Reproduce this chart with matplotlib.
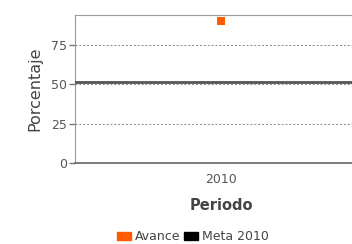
import matplotlib
matplotlib.use("Agg")
import matplotlib.pyplot as plt
from matplotlib.patches import Patch

periodos = ["2010"]
avance = [90]
meta_2010 = 51.5
yticks = [0, 25, 50, 75]

fig = plt.figure(figsize=(3.52, 2.44), dpi=100)
ax = fig.add_axes([75 / 352, 1 - 163 / 244, 292 / 352, 148 / 244])

x = list(range(len(periodos)))
ax.set_xlim(-0.5, len(periodos) - 0.5)
ax.set_ylim(0, 94)

ax.axhline(meta_2010, color="#555555", lw=2, zorder=3)
ax.scatter(x, avance, marker="s", s=40, color="#FF5A00", zorder=4, linewidths=0)

ax.set_yticks(yticks)
ax.yaxis.grid(True, color="#888888", ls=(0, (2, 2)), lw=0.7)
ax.set_xticks(x)
ax.set_xticklabels(periodos)
ax.tick_params(axis="x", length=0, pad=7, labelsize=9, labelcolor="#555555")
ax.tick_params(axis="y", length=4, width=1, color="#777777", labelsize=9, labelcolor="#555555", pad=2)

for s in ["left", "top", "right"]:
    ax.spines[s].set_color("#999999")
ax.spines["bottom"].set_color("#666666")
ax.spines["bottom"].set_linewidth(1.2)

ax.set_ylabel("Porcentaje", fontsize=11.5, color="#444444", labelpad=6)
ax.set_xlabel("Periodo", fontsize=10.5, color="#444444", fontweight="bold", labelpad=8.5)

handles = [Patch(color="#FF5A00", label="Avance"), Patch(color="black", label="Meta 2010")]
fig.legend(handles=handles, loc="center", bbox_to_anchor=(193 / 352, 1 - 237 / 244), ncol=2,
           frameon=False, fontsize=9, handlelength=1.1, handleheight=0.6,
           handletextpad=0.3, columnspacing=0.3, labelcolor="#444444")

fig.savefig("out.png", dpi=100)
